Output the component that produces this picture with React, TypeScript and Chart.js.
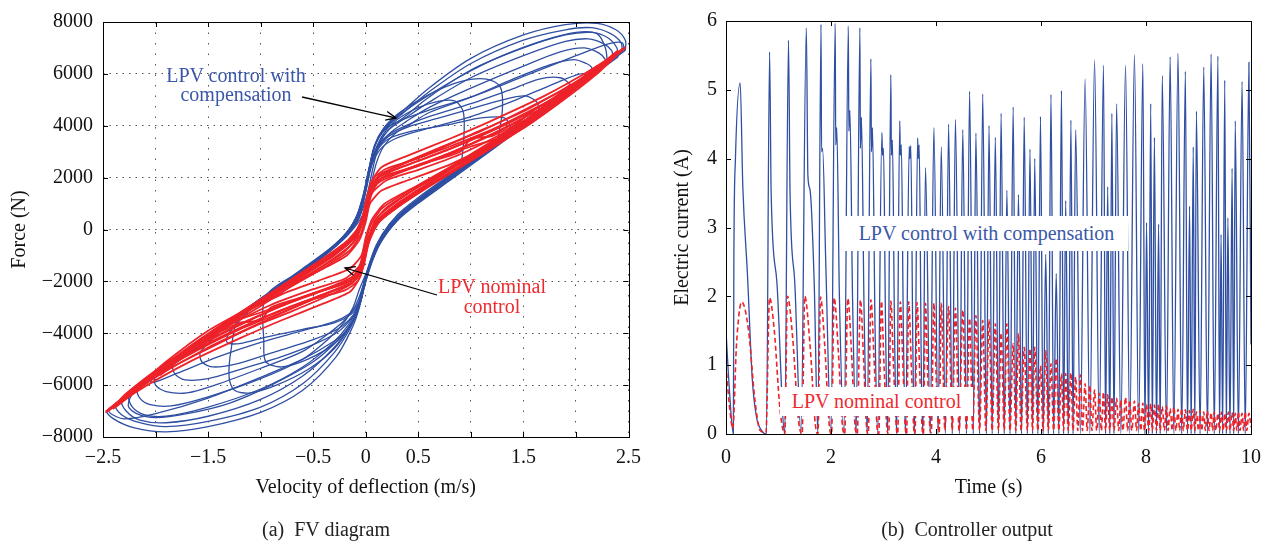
import React, { useEffect, useRef } from 'react';
import { Chart, registerables } from 'chart.js';

Chart.register(...registerables);

const FONT = "'Liberation Serif', 'Times New Roman', serif";
const BLUE = '#2f4fa3';
const RED = '#ee2229';
const TEXT_BLUE = '#3a57a8';
const TEXT_RED = '#ee2a2f';

// ---------- Panel (a): FV diagram ----------
const fvXTickLabels = [-2.5, -1.5, -0.5, 0, 0.5, 1.5, 2.5];
const fvXStep = 0.5;
const fvYStep = 2000;

const blueLoop1 = [[2.47,6910],[2.2,6130],[1.8,4940],[1.4,3760],[1.0,2580],[0.6,1400],[0.35,560],[0.18,-250],[0.06,-1150],[-0.01,-2100],[-0.06,-3000],[-0.13,-3800],[-0.28,-4900],[-0.6,-6200],[-1.0,-7050],[-1.5,-7600],[-1.9,-7800],[-2.2,-7650],[-2.4,-7300],[-2.46,-7000],[-2.1,-5960],[-1.6,-4480],[-1.1,-3010],[-0.6,-1560],[-0.3,-650],[-0.12,150],[-0.03,1200],[0.03,2300],[0.09,3300],[0.18,3950],[0.32,4450],[0.6,5450],[1.0,6600],[1.5,7500],[1.9,7900],[2.2,7950],[2.38,7700],[2.47,7300],[2.47,6910]];
const blueLoop2 = [[2.44,6880],[2.2,6190],[1.8,5000],[1.4,3820],[1.0,2640],[0.6,1460],[0.35,620],[0.18,-200],[0.06,-1100],[-0.02,-2150],[-0.07,-3050],[-0.14,-3750],[-0.3,-4750],[-0.6,-5950],[-1.0,-6850],[-1.5,-7400],[-1.9,-7600],[-2.15,-7450],[-2.32,-7150],[-2.38,-6760],[-2.1,-5900],[-1.6,-4420],[-1.1,-2950],[-0.6,-1500],[-0.3,-600],[-0.12,200],[-0.03,1250],[0.03,2350],[0.1,3350],[0.2,3950],[0.33,4400],[0.6,5300],[1.0,6400],[1.5,7300],[1.9,7700],[2.15,7780],[2.33,7550],[2.43,7200],[2.44,6880]];
const blueLoop3 = [[2.40,6650],[2.0,5470],[1.6,4290],[1.2,3110],[0.8,1930],[0.5,1050],[0.3,400],[0.15,-400],[0.05,-1250],[-0.02,-2200],[-0.07,-3050],[-0.15,-3700],[-0.3,-4550],[-0.6,-5650],[-1.0,-6550],[-1.5,-7200],[-1.9,-7450],[-2.15,-7350],[-2.28,-7000],[-2.32,-6600],[-2.0,-5700],[-1.5,-4250],[-1.0,-2800],[-0.5,-1350],[-0.25,-500],[-0.08,300],[0.01,1300],[0.07,2400],[0.13,3300],[0.23,3900],[0.37,4350],[0.6,5100],[1.0,6150],[1.5,7000],[1.9,7500],[2.15,7600],[2.3,7400],[2.39,7000],[2.40,6650]];
const blueLoop4 = [[2.35,6680],[2.0,5650],[1.6,4470],[1.2,3290],[0.8,2110],[0.5,1230],[0.3,560],[0.15,-250],[0.05,-1150],[-0.03,-2250],[-0.08,-3000],[-0.16,-3650],[-0.32,-4400],[-0.6,-5300],[-1.0,-6150],[-1.5,-6850],[-1.9,-7200],[-2.1,-7150],[-2.22,-6850],[-2.25,-6400],[-1.9,-5380],[-1.4,-3920],[-0.9,-2460],[-0.5,-1300],[-0.25,-450],[-0.1,350],[-0.02,1350],[0.04,2450],[0.12,3300],[0.22,3850],[0.36,4250],[0.6,4900],[1.0,5850],[1.5,6700],[1.9,7250],[2.12,7350],[2.27,7150],[2.34,6900],[2.35,6680]];
const blueLoop5 = [[2.28,6310],[1.9,5190],[1.5,4010],[1.1,2830],[0.7,1650],[0.45,920],[0.27,300],[0.13,-500],[0.04,-1350],[-0.06,-2300],[-0.12,-3000],[-0.2,-3550],[-0.35,-4200],[-0.6,-5000],[-1.0,-5750],[-1.5,-6450],[-1.85,-6800],[-2.05,-6750],[-2.15,-6500],[-2.17,-6150],[-1.8,-5100],[-1.3,-3640],[-0.8,-2180],[-0.45,-1150],[-0.22,-380],[-0.08,450],[-0.01,1450],[0.05,2500],[0.13,3250],[0.24,3750],[0.38,4150],[0.6,4700],[1.0,5450],[1.5,6300],[1.85,6850],[2.08,7000],[2.22,6800],[2.28,6550],[2.28,6310]];
const blueLoop6 = [[2.15,6050],[1.8,5020],[1.4,3840],[1.0,2660],[0.6,1480],[0.38,800],[0.22,180],[0.1,-600],[0.02,-1500],[-0.04,-2350],[-0.1,-2950],[-0.19,-3450],[-0.35,-4000],[-0.6,-4700],[-1.0,-5350],[-1.4,-5950],[-1.7,-6300],[-1.9,-6250],[-2.0,-6000],[-2.0,-5650],[-1.6,-4500],[-1.1,-3040],[-0.7,-1870],[-0.4,-1000],[-0.18,-250],[-0.03,550],[0.04,1550],[0.1,2550],[0.17,3200],[0.28,3700],[0.42,4050],[0.6,4500],[1.0,5100],[1.4,5800],[1.75,6350],[1.98,6550],[2.1,6400],[2.15,6250],[2.15,6050]];
const blueLoop7 = [[1.95,5280],[1.6,4250],[1.2,3070],[0.8,1890],[0.5,1010],[0.3,350],[0.16,-350],[0.06,-1250],[-0.01,-2150],[-0.06,-2900],[-0.13,-3400],[-0.25,-3900],[-0.45,-4350],[-0.8,-4900],[-1.2,-5400],[-1.5,-5750],[-1.72,-5800],[-1.82,-5550],[-1.83,-5150],[-1.5,-4200],[-1.0,-2750],[-0.6,-1580],[-0.3,-700],[-0.12,150],[-0.03,1150],[0.03,2250],[0.1,3100],[0.2,3600],[0.35,3950],[0.6,4350],[1.0,4850],[1.35,5350],[1.65,5800],[1.85,5850],[1.94,5600],[1.95,5280]];
const blueLoop8 = [[1.65,4530],[1.3,3500],[0.9,2320],[0.55,1290],[0.33,550],[0.17,-250],[0.07,-1100],[0.0,-2000],[-0.05,-2800],[-0.12,-3300],[-0.25,-3800],[-0.5,-4250],[-0.85,-4700],[-1.2,-5150],[-1.45,-5300],[-1.56,-5100],[-1.57,-4700],[-1.2,-3300],[-0.8,-2150],[-0.45,-1150],[-0.2,-300],[-0.07,450],[0.0,1450],[0.05,2450],[0.12,3150],[0.22,3600],[0.4,3950],[0.7,4300],[1.0,4650],[1.3,5000],[1.52,5150],[1.63,4900],[1.65,4530]];
const blueLoop9 = [[2.1,5820],[1.7,4640],[1.3,3460],[0.9,2290],[0.55,1260],[0.32,500],[0.16,-300],[0.06,-1150],[-0.01,-2050],[-0.06,-2750],[-0.14,-3200],[-0.3,-3550],[-0.6,-3900],[-1.0,-4350],[-1.4,-4900],[-1.8,-5550],[-2.02,-5900],[-2.06,-5800],[-1.7,-4780],[-1.2,-3330],[-0.75,-2020],[-0.42,-1060],[-0.19,-290],[-0.06,500],[0.0,1500],[0.06,2500],[0.14,3100],[0.28,3500],[0.55,3850],[1.0,4350],[1.4,4950],[1.75,5550],[2.0,5950],[2.08,6000],[2.1,5820]];
const blueLoop10 = [[2.46,6880],[2.0,5530],[1.5,4060],[1.0,2590],[0.5,1110],[0.3,350],[0.15,-450],[0.05,-1250],[-0.02,-2250],[-0.08,-3150],[-0.16,-3800],[-0.3,-4300],[-0.6,-5000],[-1.0,-5700],[-1.5,-6500],[-2.0,-7100],[-2.3,-7300],[-2.44,-7050],[-2.42,-6850],[-2.0,-5650],[-1.5,-4190],[-1.0,-2730],[-0.5,-1270],[-0.2,-200],[-0.05,800],[0.02,2000],[0.08,3150],[0.17,3800],[0.3,4150],[0.6,4600],[1.0,5100],[1.5,5900],[2.0,6700],[2.3,7150],[2.44,7200],[2.46,6880]];
const blueLoop11 = [[1.4,3760],[1.0,2590],[0.6,1450],[0.35,650],[0.18,-200],[0.07,-1050],[0.0,-1950],[-0.05,-2700],[-0.12,-3200],[-0.3,-3600],[-0.6,-3850],[-0.95,-4150],[-1.2,-4400],[-1.32,-4350],[-1.3,-3980],[-1.0,-2730],[-0.6,-1560],[-0.3,-650],[-0.12,150],[-0.02,1200],[0.04,2300],[0.11,3050],[0.22,3500],[0.45,3800],[0.8,4050],[1.1,4300],[1.32,4300],[1.4,3760]];
const blueLoop12 = [[2.3,6410],[1.9,5230],[1.5,4060],[1.1,2880],[0.7,1700],[0.4,800],[0.2,0],[0.08,-900],[0.0,-1900],[-0.05,-2800],[-0.12,-3500],[-0.25,-4200],[-0.5,-5100],[-0.9,-6000],[-1.3,-6700],[-1.7,-7100],[-2.0,-7250],[-2.18,-7100],[-2.26,-6800],[-2.2,-6230],[-1.7,-4770],[-1.2,-3310],[-0.7,-1850],[-0.35,-800],[-0.15,50],[-0.04,1000],[0.02,2100],[0.08,3150],[0.17,3850],[0.3,4350],[0.55,5050],[0.9,5900],[1.3,6700],[1.7,7300],[2.0,7600],[2.2,7550],[2.28,7000],[2.3,6410]];
const blueLoop13 = [[1.25,3320],[0.9,2290],[0.55,1260],[0.3,450],[0.15,-350],[0.05,-1200],[-0.02,-2200],[-0.07,-3000],[-0.15,-3750],[-0.3,-4600],[-0.55,-5400],[-0.85,-6000],[-1.1,-6300],[-1.25,-6200],[-1.3,-5700],[-1.28,-4600],[-1.2,-3320],[-0.7,-1850],[-0.35,-800],[-0.15,50],[-0.04,1000],[0.02,2100],[0.08,3200],[0.17,3900],[0.32,4500],[0.6,5200],[0.9,5700],[1.15,5800],[1.28,5500],[1.3,4600],[1.25,3320]];
const blueLoop14 = [[0.9,2290],[0.55,1260],[0.3,450],[0.15,-350],[0.05,-1200],[-0.02,-2200],[-0.07,-3000],[-0.15,-3700],[-0.3,-4400],[-0.55,-5000],[-0.8,-5300],[-0.95,-5100],[-0.97,-4400],[-0.95,-2580],[-0.6,-1560],[-0.3,-650],[-0.12,150],[-0.02,1250],[0.04,2350],[0.11,3250],[0.22,3950],[0.4,4500],[0.65,4900],[0.85,4950],[0.93,4500],[0.93,3300],[0.9,2290]];

const redLoop1 = [[2.47,7040],[2.2,6000],[1.8,4750],[1.4,3650],[1.0,2650],[0.6,1650],[0.3,850],[0.12,250],[0.03,-500],[-0.02,-1400],[-0.08,-2000],[-0.2,-2350],[-0.5,-2700],[-1.0,-3600],[-1.5,-4550],[-2.0,-5700],[-2.3,-6550],[-2.47,-7040],[-2.2,-6100],[-1.8,-4950],[-1.4,-3800],[-1.0,-2700],[-0.6,-1650],[-0.3,-850],[-0.12,-250],[-0.03,500],[0.02,1400],[0.08,2000],[0.2,2350],[0.5,2750],[1.0,3650],[1.5,4550],[2.0,5700],[2.3,6550],[2.47,7040]];
const redLoop2 = [[2.44,6950],[2.1,5750],[1.7,4500],[1.3,3400],[0.9,2400],[0.55,1550],[0.28,800],[0.1,200],[0.02,-600],[-0.03,-1500],[-0.1,-1950],[-0.25,-2250],[-0.6,-2800],[-1.0,-3450],[-1.5,-4400],[-2.0,-5550],[-2.3,-6450],[-2.44,-6950],[-2.1,-5850],[-1.7,-4650],[-1.3,-3550],[-0.9,-2450],[-0.55,-1550],[-0.28,-800],[-0.1,-200],[-0.02,600],[0.03,1500],[0.1,1950],[0.25,2250],[0.6,2800],[1.0,3450],[1.5,4400],[2.0,5550],[2.3,6450],[2.44,6950]];
const redLoop3 = [[2.35,6700],[2.0,5500],[1.6,4300],[1.2,3200],[0.8,2200],[0.5,1450],[0.25,750],[0.08,150],[0.0,-700],[-0.05,-1600],[-0.12,-2050],[-0.3,-2450],[-0.7,-3150],[-1.1,-3800],[-1.6,-4800],[-2.0,-5650],[-2.25,-6300],[-2.36,-6750],[-2.0,-5600],[-1.6,-4400],[-1.2,-3300],[-0.8,-2250],[-0.5,-1450],[-0.25,-750],[-0.08,-150],[0.0,700],[0.05,1600],[0.12,2050],[0.3,2450],[0.7,3150],[1.1,3800],[1.6,4800],[2.0,5650],[2.25,6300],[2.35,6700]];
const redLoop4 = [[2.2,6300],[1.8,5000],[1.4,3800],[1.0,2700],[0.65,1800],[0.35,1000],[0.15,400],[0.04,-300],[-0.02,-1200],[-0.08,-1850],[-0.2,-2200],[-0.45,-2600],[-0.8,-3200],[-1.2,-3850],[-1.6,-4650],[-1.95,-5450],[-2.15,-6050],[-2.2,-6250],[-1.85,-5150],[-1.45,-3950],[-1.05,-2850],[-0.7,-1900],[-0.4,-1100],[-0.18,-450],[-0.05,200],[0.0,1000],[0.05,1700],[0.15,2150],[0.4,2600],[0.8,3200],[1.2,3850],[1.6,4650],[1.95,5450],[2.15,6050],[2.2,6300]];
const redLoop5 = [[1.95,5600],[1.6,4450],[1.2,3350],[0.8,2300],[0.45,1350],[0.2,600],[0.06,0],[-0.01,-900],[-0.06,-1700],[-0.15,-2100],[-0.4,-2500],[-0.8,-3100],[-1.2,-3800],[-1.6,-4600],[-1.85,-5250],[-1.95,-5600],[-1.6,-4450],[-1.2,-3350],[-0.8,-2300],[-0.45,-1350],[-0.2,-600],[-0.06,0],[0.01,900],[0.06,1700],[0.15,2100],[0.4,2500],[0.8,3100],[1.2,3800],[1.6,4600],[1.85,5250],[1.95,5600]];
const redLoop6 = [[1.6,4600],[1.25,3500],[0.9,2550],[0.55,1650],[0.25,800],[0.08,200],[0.0,-600],[-0.05,-1500],[-0.15,-1950],[-0.4,-2350],[-0.8,-2950],[-1.2,-3650],[-1.5,-4300],[-1.6,-4600],[-1.25,-3500],[-0.9,-2550],[-0.55,-1650],[-0.25,-800],[-0.08,-200],[0.0,600],[0.05,1500],[0.15,1950],[0.4,2350],[0.8,2950],[1.2,3650],[1.5,4300],[1.6,4600]];
const redLoop7 = [[2.4,6900],[2.0,5600],[1.5,4150],[1.0,2900],[0.6,1900],[0.3,1100],[0.12,500],[0.04,-200],[-0.01,-1000],[-0.06,-1700],[-0.2,-2100],[-0.5,-2450],[-1.0,-3300],[-1.5,-4300],[-2.0,-5450],[-2.3,-6400],[-2.4,-6900],[-2.0,-5650],[-1.5,-4200],[-1.0,-2950],[-0.6,-1900],[-0.3,-1100],[-0.12,-500],[-0.04,200],[0.01,1000],[0.06,1700],[0.2,2100],[0.5,2450],[1.0,3300],[1.5,4300],[2.0,5450],[2.3,6400],[2.4,6900]];
const redLoop8 = [[2.25,6400],[1.9,5250],[1.5,4050],[1.1,3000],[0.7,2100],[0.4,1400],[0.2,850],[0.08,300],[0.02,-500],[-0.04,-1300],[-0.12,-1800],[-0.3,-2150],[-0.6,-2600],[-0.9,-3000],[-1.0,-3500],[-1.2,-3600],[-1.6,-4400],[-2.0,-5500],[-2.25,-6400],[-1.9,-5250],[-1.5,-4050],[-1.1,-3000],[-0.7,-2100],[-0.4,-1400],[-0.2,-850],[-0.08,-300],[-0.02,500],[0.04,1300],[0.12,1800],[0.3,2150],[0.6,2600],[0.9,3000],[1.0,3500],[1.2,3600],[1.6,4400],[2.0,5500],[2.25,6400]];
const redLoop9 = [[2.47,7000],[2.1,5850],[1.6,4300],[1.1,2950],[0.7,1950],[0.4,1200],[0.18,600],[0.06,0],[0.0,-800],[-0.05,-1800],[-0.15,-2400],[-0.4,-2850],[-0.8,-3500],[-1.2,-4200],[-1.7,-5150],[-2.1,-6050],[-2.47,-7000],[-2.1,-5850],[-1.6,-4300],[-1.1,-2950],[-0.7,-1950],[-0.4,-1200],[-0.18,-600],[-0.06,0],[0.0,800],[0.05,1800],[0.15,2400],[0.4,2850],[0.8,3500],[1.2,4200],[1.7,5150],[2.1,6050],[2.47,7000]];
const redLoop10 = [[1.3,3550],[1.0,2800],[0.6,1800],[0.3,1000],[0.1,300],[0.02,-500],[-0.03,-1300],[-0.1,-1850],[-0.3,-2200],[-0.7,-2750],[-1.0,-3200],[-1.3,-3550],[-1.0,-2800],[-0.6,-1800],[-0.3,-1000],[-0.1,-300],[-0.02,500],[0.03,1300],[0.1,1850],[0.3,2200],[0.7,2750],[1.0,3200],[1.3,3550]];
const redLoop11 = [[2.3,6500],[1.9,5100],[1.5,3900],[1.1,3000],[0.7,2100],[0.4,1500],[0.18,1000],[0.06,400],[0.0,-300],[-0.04,-1000],[-0.15,-1500],[-0.4,-1900],[-0.8,-2500],[-1.2,-3300],[-1.6,-4300],[-2.0,-5500],[-2.3,-6500],[-1.9,-5100],[-1.5,-3900],[-1.1,-3000],[-0.7,-2100],[-0.4,-1500],[-0.18,-1000],[-0.06,-400],[0.0,300],[0.04,1000],[0.15,1500],[0.4,1900],[0.8,2500],[1.2,3300],[1.6,4300],[2.0,5500],[2.3,6500]];
const redLoop12 = [[1.8,5000],[1.4,3800],[1.0,2850],[0.6,1950],[0.35,1350],[0.15,800],[0.05,200],[-0.01,-600],[-0.06,-1400],[-0.2,-1900],[-0.5,-2300],[-0.9,-2900],[-1.3,-3700],[-1.6,-4400],[-1.8,-5000],[-1.4,-3800],[-1.0,-2850],[-0.6,-1950],[-0.35,-1350],[-0.15,-800],[-0.05,-200],[0.01,600],[0.06,1400],[0.2,1900],[0.5,2300],[0.9,2900],[1.3,3700],[1.6,4400],[1.8,5000]];

const blueLoops = [blueLoop1, blueLoop2, blueLoop3, blueLoop4, blueLoop5, blueLoop6, blueLoop7, blueLoop8, blueLoop9, blueLoop10, blueLoop11, blueLoop12, blueLoop13, blueLoop14];
const redLoops = [redLoop1, redLoop2, redLoop3, redLoop4, redLoop5, redLoop6, redLoop7, redLoop8, redLoop9, redLoop10, redLoop11, redLoop12];

// ---------- Panel (b): controller output ----------
const currentXStep = 2;
const currentYStep = 1;

const compensationCurrent = [[0.00,1.50],[0.06,0.70],[0.14,0.00],[0.15,2.55],[0.18,4.00],[0.27,5.10],[0.32,3.60],[0.41,2.30],[0.50,0.80],[0.58,0.25],[0.68,0.05],[0.77,0.00],
[0.83,5.55],[0.86,3.50],[0.97,2.20],[1.12,0.00],
[1.19,5.72],[1.22,3.50],[1.31,2.20],[1.43,0.00],
[1.53,5.90],[1.56,3.75],[1.60,3.55],[1.68,2.20],[1.75,0.00],
[1.81,5.95],[1.82,4.10],[1.84,4.15],[1.90,2.50],[2.00,0.00],
[2.08,5.97],[2.09,4.20],[2.11,4.45],[2.16,2.00],[2.25,0.00],
[2.33,5.93],[2.34,4.40],[2.36,4.70],[2.41,2.00],[2.48,0.00],
[2.55,5.90],[2.56,4.15],[2.58,4.60],[2.63,1.80],[2.69,0.00],
[2.76,5.45],[2.77,4.10],[2.79,4.45],[2.84,1.50],[2.89,0.00],
[2.97,4.38],[2.98,4.05],[3.00,4.15],[3.04,1.50],[3.08,0.00],
[3.14,5.22],[3.15,4.05],[3.17,4.27],[3.21,1.50],[3.25,0.00],
[3.31,4.55],[3.32,4.05],[3.34,4.20],[3.38,1.40],[3.42,0.00],
[3.49,4.18],[3.50,4.00],[3.52,4.19],[3.56,1.20],[3.59,0.00],
[3.65,4.30],[3.66,4.00],[3.68,4.20],[3.72,1.00],[3.75,0.00],
[3.80,3.87],[3.89,0.00],[3.96,4.45],[4.04,0.00],[4.10,4.17],[4.18,0.00],[4.24,4.50],[4.31,0.00],
[4.37,4.57],[4.45,0.00],[4.51,4.42],[4.58,0.00],[4.64,4.98],[4.71,0.00],[4.76,4.37],[4.83,0.00],
[4.89,4.94],[4.96,0.00],[5.01,4.48],[5.07,0.00],[5.13,4.31],[5.19,0.00],[5.24,4.66],[5.30,0.00],
[5.35,3.54],[5.41,0.00],[5.47,4.75],[5.52,0.00],[5.57,3.48],[5.63,0.00],[5.68,4.60],[5.74,0.00],
[5.79,4.14],[5.84,0.00],[5.88,4.00],[5.94,0.00],[5.99,4.61],[6.04,0.00],[6.09,2.61],[6.14,0.00],
[6.19,4.93],[6.24,0.00],[6.29,2.33],[6.34,0.00],[6.39,4.99],[6.43,0.00],[6.47,3.39],[6.52,0.00],
[6.57,4.56],[6.61,0.00],[6.66,4.42],[6.75,0.00],[6.84,5.16],[6.93,0.00],[7.02,5.43],[7.11,0.00],
[7.19,5.36],[7.23,0.00],[7.27,3.59],[7.31,0.00],[7.35,4.66],[7.39,0.00],[7.44,4.80],[7.52,0.00],
[7.61,5.36],[7.69,0.00],[7.78,5.51],[7.86,0.00],[7.94,5.38],[7.98,0.00],[8.01,3.07],[8.05,0.00],
[8.09,4.80],[8.12,0.00],[8.16,4.31],[8.20,0.00],[8.24,3.05],[8.27,0.00],[8.31,5.21],[8.39,0.00],
[8.46,5.48],[8.53,0.00],[8.61,5.53],[8.68,0.00],[8.75,5.27],[8.79,0.00],[8.83,3.31],[8.86,0.00],
[8.90,4.17],[8.93,0.00],[8.96,4.69],[9.03,0.00],[9.10,5.33],[9.17,0.00],[9.24,5.52],[9.30,0.00],
[9.37,5.49],[9.40,0.00],[9.43,2.90],[9.46,0.00],[9.50,5.14],[9.53,0.00],[9.56,3.14],[9.60,0.00],
[9.64,3.86],[9.67,0.00],[9.70,4.55],[9.76,0.00],[9.83,5.12],[9.89,0.00],[9.96,5.40],[10.0,1.30]];

const nominalCurrent = [[0.00,1.00],[0.06,0.45],[0.13,0.08],[0.20,1.30],[0.30,1.92],[0.43,1.50],[0.55,0.50],[0.65,0.05],[0.76,0.02],
[0.83,1.98],[0.92,1.50],[1.03,0.35],[1.12,0.00],
[1.17,2.00],[1.27,1.40],[1.38,0.20],[1.45,0.00],
[1.50,2.00],[1.60,1.30],[1.70,0.15],[1.75,0.00],
[1.80,1.99],[1.88,1.30],[1.97,0.10],[2.01,0.00],
[2.06,1.98],[2.14,1.20],[2.22,0.10],[2.26,0.00],
[2.32,1.97],[2.39,1.20],[2.46,0.10],[2.50,0.00],
[2.56,1.95],[2.62,1.10],[2.68,0.08],[2.71,0.00],
[2.76,1.95],[2.82,1.10],[2.88,0.08],[2.91,0.00],
[2.96,1.93],[3.01,1.00],[3.07,0.05],[3.10,0.00],
[3.14,1.93],[3.19,1.00],[3.25,0.05],[3.27,0.00],
[3.32,1.92],[3.37,1.00],[3.42,0.05],[3.44,0.00],
[3.48,1.92],[3.53,1.00],[3.58,0.05],[3.60,0.00],
[3.64,1.91],[3.69,0.90],[3.74,0.05],[3.76,0.00],
[3.80,1.90],[3.84,0.90],[3.89,0.05],[3.91,0.02],
[3.96,1.90],[4.00,0.90],[4.05,0.05],[4.06,0.02],
[4.10,1.90],[4.17,0.05],[4.24,1.85],[4.31,0.05],[4.37,1.83],[4.44,0.05],[4.51,1.80],[4.58,0.05],
[4.64,1.68],[4.70,0.05],[4.76,1.72],[4.83,0.05],[4.89,1.65],[4.95,0.05],[5.01,1.66],[5.07,0.05],
[5.13,1.60],[5.19,0.05],[5.24,1.47],[5.30,0.05],[5.35,1.60],[5.41,0.05],[5.47,1.31],[5.52,0.05],
[5.57,1.46],[5.62,0.05],[5.68,1.26],[5.74,0.05],[5.79,1.24],[5.84,0.05],[5.88,1.26],[5.94,0.05],
[5.99,0.99],[6.04,0.05],[6.09,1.21],[6.14,0.05],[6.19,1.02],[6.24,0.05],[6.29,1.10],[6.34,0.05],
[6.39,0.88],[6.43,0.05],[6.47,0.88],[6.52,0.05],[6.57,0.89],[6.61,0.05],[6.66,0.83],[6.70,0.05],
[6.75,0.86],[6.79,0.05],[6.84,0.73],[6.88,0.05],[6.93,0.71],[6.97,0.05],[7.02,0.64],[7.06,0.05],
[7.11,0.59],[7.15,0.05],[7.19,0.61],[7.23,0.05],[7.27,0.57],[7.31,0.05],[7.35,0.54],[7.39,0.05],
[7.44,0.52],[7.48,0.05],[7.52,0.49],[7.56,0.05],[7.61,0.53],[7.65,0.05],[7.69,0.49],[7.73,0.05],
[7.78,0.48],[7.82,0.05],[7.86,0.44],[7.90,0.05],[7.94,0.45],[7.97,0.05],[8.01,0.43],[8.05,0.05],
[8.09,0.44],[8.12,0.05],[8.16,0.42],[8.20,0.05],[8.24,0.43],[8.27,0.05],[8.31,0.40],[8.35,0.05],
[8.39,0.41],[8.42,0.05],[8.46,0.37],[8.50,0.05],[8.53,0.39],[8.57,0.05],[8.61,0.36],[8.64,0.05],
[8.68,0.37],[8.71,0.05],[8.75,0.35],[8.79,0.05],[8.83,0.34],[8.86,0.05],[8.90,0.36],[8.93,0.05],
[8.96,0.32],[9.00,0.05],[9.03,0.34],[9.06,0.05],[9.10,0.32],[9.13,0.05],[9.17,0.34],[9.20,0.05],
[9.24,0.31],[9.27,0.05],[9.30,0.32],[9.33,0.05],[9.37,0.30],[9.40,0.05],[9.44,0.32],[9.47,0.05],
[9.50,0.30],[9.53,0.05],[9.57,0.32],[9.60,0.05],[9.64,0.31],[9.67,0.05],[9.70,0.30],[9.73,0.05],
[9.76,0.32],[9.79,0.05],[9.83,0.30],[9.86,0.05],[9.89,0.32],[9.92,0.05],[9.96,0.30],[10.0,0.10]];

// ---------- helpers ----------
const toXY = (pairs: number[][]) => pairs.map(([x, y]) => ({ x, y }));
const fmtNum = (v: number) => {
  const r = Math.round(v * 1000) / 1000;
  return r < 0 ? '\u2212' + String(Math.abs(r)) : String(r);
};

const boxPlugin = {
  id: 'matlabBox',
  afterDatasetsDraw(chart: any) {
    const { ctx, chartArea } = chart;
    const { left, right, top, bottom } = chartArea;
    const xs = chart.scales.x;
    const ys = chart.scales.y;
    const L = 5;
    ctx.save();
    ctx.setLineDash([]);
    ctx.strokeStyle = '#000';
    ctx.lineWidth = 1;
    ctx.beginPath();
    xs.ticks.forEach((t: any) => {
      const px = Math.round(xs.getPixelForValue(t.value)) + 0.5;
      ctx.moveTo(px, bottom);
      ctx.lineTo(px, bottom - L);
      ctx.moveTo(px, top);
      ctx.lineTo(px, top + L);
    });
    ys.ticks.forEach((t: any) => {
      const py = Math.round(ys.getPixelForValue(t.value)) + 0.5;
      ctx.moveTo(left, py);
      ctx.lineTo(left + L, py);
      ctx.moveTo(right, py);
      ctx.lineTo(right - L, py);
    });
    ctx.stroke();
    ctx.strokeRect(Math.round(left) + 0.5, Math.round(top) + 0.5, Math.round(right - left), Math.round(bottom - top));
    ctx.restore();
  },
};

function fvConfig(): any {
  const datasets: any[] = [];
  redLoops.forEach((loop, i) => {
    datasets.push({
      label: 'LPV nominal control ' + (i + 1),
      data: toXY(loop),
      showLine: true,
      borderColor: RED,
      borderWidth: 1.8,
      pointRadius: 0,
      tension: 0.2,
      order: 0,
    });
  });
  blueLoops.forEach((loop, i) => {
    datasets.push({
      label: 'LPV control with compensation ' + (i + 1),
      data: toXY(loop),
      showLine: true,
      borderColor: BLUE,
      borderWidth: 1.3,
      pointRadius: 0,
      tension: 0.3,
      order: 1,
    });
  });
  return {
    type: 'scatter',
    data: { datasets },
    plugins: [boxPlugin],
    options: {
      animation: false,
      responsive: false,
      events: [],
      layout: { autoPadding: false, padding: { left: 4, right: 19, top: 20, bottom: 40 } },
      plugins: { legend: { display: false }, tooltip: { enabled: false } },
      scales: {
        x: {
          type: 'linear',
          min: -2.5,
          max: 2.5,
          afterFit: (s: any) => { s.height = 67; },
          grid: { color: '#555', lineWidth: 1, drawTicks: false },
          border: { display: false, dash: [1.5, 9] },
          ticks: {
            stepSize: fvXStep,
            autoSkip: false,
            maxRotation: 0,
            padding: 9,
            color: '#111',
            font: { family: FONT, size: 20 },
            callback: (v: any) => {
              const r = Math.round(Number(v) * 10) / 10;
              return fvXTickLabels.some((t) => Math.abs(t - r) < 1e-6) ? fmtNum(r) : '';
            },
          },
          title: { display: true, text: 'Velocity of deflection (m/s)', color: '#111', font: { family: FONT, size: 20 }, padding: { top: 4, bottom: 4 } },
        },
        y: {
          type: 'linear',
          min: -8000,
          max: 8000,
          afterFit: (s: any) => { s.width = 99; },
          grid: { color: '#555', lineWidth: 1, drawTicks: false },
          border: { display: false, dash: [1.5, 5] },
          ticks: {
            stepSize: fvYStep,
            padding: 10,
            color: '#111',
            font: { family: FONT, size: 20 },
            callback: (v: any) => fmtNum(Number(v)),
          },
          title: { display: true, text: 'Force (N)', color: '#111', font: { family: FONT, size: 20 }, padding: { top: 4, bottom: 4 } },
        },
      },
    },
  };
}

function currentConfig(): any {
  return {
    type: 'scatter',
    data: {
      datasets: [
        {
          label: 'LPV nominal control',
          data: toXY(nominalCurrent),
          showLine: true,
          borderColor: RED,
          borderWidth: 1.6,
          borderDash: [5, 3],
          pointRadius: 0,
          cubicInterpolationMode: 'monotone',
          order: 0,
        },
        {
          label: 'LPV control with compensation',
          data: toXY(compensationCurrent),
          showLine: true,
          borderColor: BLUE,
          borderWidth: 1.3,
          pointRadius: 0,
          cubicInterpolationMode: 'monotone',
          order: 1,
        },
      ],
    },
    plugins: [boxPlugin],
    options: {
      animation: false,
      responsive: false,
      events: [],
      layout: { autoPadding: false, padding: { left: 17, right: 19, top: 17, bottom: 40 } },
      plugins: { legend: { display: false }, tooltip: { enabled: false } },
      scales: {
        x: {
          type: 'linear',
          min: 0,
          max: 10,
          afterFit: (s: any) => { s.height = 70; },
          grid: { display: false, drawTicks: false },
          border: { display: false },
          ticks: {
            stepSize: currentXStep,
            autoSkip: false,
            maxRotation: 0,
            padding: 12,
            color: '#111',
            font: { family: FONT, size: 20 },
            callback: (v: any) => fmtNum(Number(v)),
          },
          title: { display: true, text: 'Time (s)', color: '#111', font: { family: FONT, size: 20 }, padding: { top: 4, bottom: 4 } },
        },
        y: {
          type: 'linear',
          min: 0,
          max: 6,
          afterFit: (s: any) => { s.width = 59; },
          grid: { display: false, drawTicks: false },
          border: { display: false },
          ticks: {
            stepSize: currentYStep,
            padding: 9,
            color: '#111',
            font: { family: FONT, size: 20 },
            callback: (v: any) => fmtNum(Number(v)),
          },
          title: { display: true, text: 'Electric current (A)', color: '#111', font: { family: FONT, size: 20 }, padding: { top: 4, bottom: 4 } },
        },
      },
    },
  };
}

function ChartCanvas(props: { make: () => any; left: number; width: number; height: number }) {
  const ref = useRef<HTMLCanvasElement | null>(null);
  useEffect(() => {
    if (!ref.current) return;
    const chart = new Chart(ref.current, props.make());
    return () => chart.destroy();
  }, []);
  return (
    <canvas
      ref={ref}
      width={props.width}
      height={props.height}
      style={{ position: 'absolute', left: props.left, top: 0, width: props.width, height: props.height }}
    />
  );
}

function Arrow(props: { x1: number; y1: number; x2: number; y2: number }) {
  const { x1, y1, x2, y2 } = props;
  const a = Math.atan2(y2 - y1, x2 - x1);
  const L = 11;
  const s = 0.42;
  const p1 = [x2 - L * Math.cos(a - s), y2 - L * Math.sin(a - s)];
  const p2 = [x2 - L * Math.cos(a + s), y2 - L * Math.sin(a + s)];
  return (
    <g stroke="#000" strokeWidth={1.3} fill="none">
      <line x1={x1} y1={y1} x2={x2} y2={y2} />
      <polyline points={`${p1[0]},${p1[1]} ${x2},${y2} ${p2[0]},${p2[1]}`} />
    </g>
  );
}

const textBase: any = { position: 'absolute', fontFamily: FONT, fontSize: 20, whiteSpace: 'nowrap' };

export default function App() {
  return (
    <div style={{ position: 'fixed', left: 0, top: 0, width: 1273, height: 544, background: '#fff', overflow: 'hidden' }}>
      <ChartCanvas make={fvConfig} left={0} width={650} height={544} />
      <ChartCanvas make={currentConfig} left={650} width={623} height={544} />
      <svg width={1273} height={544} style={{ position: 'absolute', left: 0, top: 0, pointerEvents: 'none' }}>
        <Arrow x1={302} y1={97} x2={396} y2={118} />
        <Arrow x1={437} y1={295} x2={345} y2={268} />
      </svg>
      <div style={{ ...textBase, left: 136, top: 66, width: 200, textAlign: 'center', lineHeight: '19px', color: TEXT_BLUE }}>
        LPV control with<br />compensation
      </div>
      <div style={{ ...textBase, left: 392, top: 276, width: 200, textAlign: 'center', lineHeight: '20px', color: TEXT_RED }}>
        LPV nominal<br />control
      </div>
      <div style={{ ...textBase, left: 845, top: 216, width: 283, height: 35, lineHeight: '35px', textAlign: 'center', background: '#fff', color: TEXT_BLUE }}>
        LPV control with compensation
      </div>
      <div style={{ ...textBase, left: 780, top: 387, width: 193, height: 29, lineHeight: '29px', textAlign: 'center', background: '#fff', color: TEXT_RED }}>
        LPV nominal control
      </div>
      <div style={{ ...textBase, left: 176, top: 518, width: 300, textAlign: 'center', lineHeight: '22px', color: '#222' }}>
        (a)&nbsp;&nbsp;FV diagram
      </div>
      <div style={{ ...textBase, left: 817, top: 518, width: 300, textAlign: 'center', lineHeight: '22px', color: '#222' }}>
        (b)&nbsp;&nbsp;Controller output
      </div>
    </div>
  );
}
